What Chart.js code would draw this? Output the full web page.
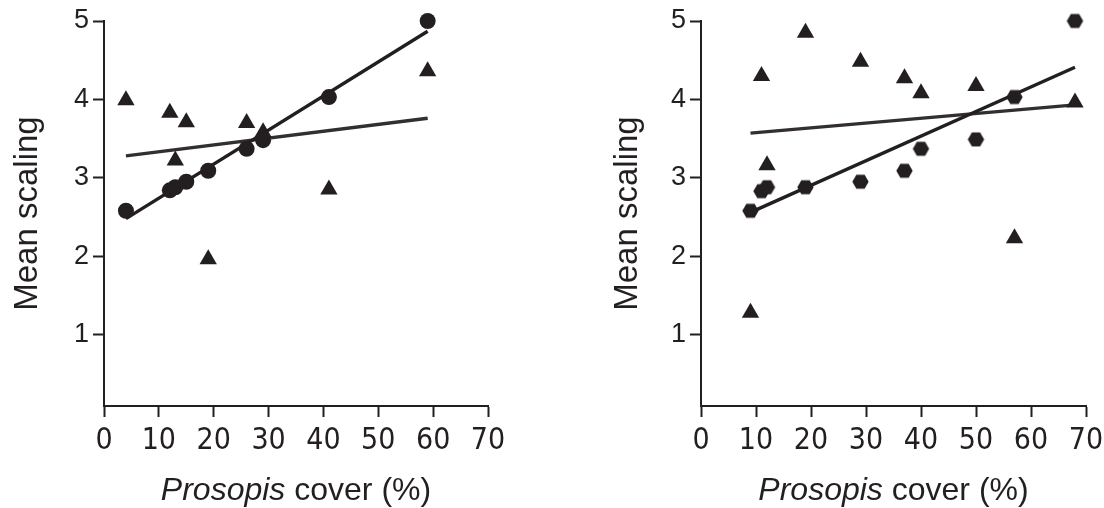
<!DOCTYPE html>
<html>
<head>
<meta charset="utf-8">
<script src="https://cdn.jsdelivr.net/npm/chart.js@4.4.1/dist/chart.umd.min.js"></script>
<style>
  html, body { margin: 0; padding: 0; background: #ffffff; }
  #wrap { position: relative; width: 1104px; height: 508px; overflow: hidden; }
  canvas { position: absolute; top: 0; }
  #cLeft { left: 0; }
  #cRight { left: 552px; }
</style>
</head>
<body>
<div id="wrap">
  <canvas id="cLeft" width="552" height="508"></canvas>
  <canvas id="cRight" width="552" height="508"></canvas>
</div>
<script>
// ---------- data ----------
const xTicks = [0, 10, 20, 30, 40, 50, 60, 70];
const yTicks = [1, 2, 3, 4, 5];
const yAxisTitle = 'Mean scaling';
const xTitleItalic = 'Prosopis';
const xTitleRest = ' cover (%)';

// left panel
const leftCircleX = [4, 12, 13, 15, 19, 26, 29, 41, 59];
const leftCircleY = [2.58, 2.84, 2.88, 2.95, 3.09, 3.37, 3.48, 4.03, 5.00];
const leftTriX = [4, 12, 13, 15, 19, 26, 29, 41, 59];
const leftTriY = [3.99, 3.83, 3.22, 3.71, 1.96, 3.70, 3.58, 2.85, 4.36];
const leftCircleFitX = [4, 59];
const leftCircleFitY = [2.48, 4.87];
const leftTriFitX = [4, 59];
const leftTriFitY = [3.28, 3.76];

// right panel
const rightHexX = [9, 11, 12, 19, 29, 37, 40, 50, 57, 68];
const rightHexY = [2.58, 2.83, 2.88, 2.88, 2.95, 3.09, 3.37, 3.49, 4.03, 5.00];
const rightTriX = [9, 11, 12, 19, 29, 37, 40, 50, 57, 68];
const rightTriY = [1.28, 4.30, 3.16, 4.85, 4.48, 4.27, 4.08, 4.17, 2.23, 3.96];
const rightHexFitX = [9, 68];
const rightHexFitY = [2.56, 4.41];
const rightTriFitX = [9, 68];
const rightTriFitY = [3.57, 3.93];

// ---------- styling ----------
const INK = '#231f20';
const FONT = "'Liberation Sans', Arial, Helvetica, sans-serif";
const NARROW = "'Liberation Sans Narrow', 'Arial Narrow', 'DejaVu Sans Condensed', sans-serif";

function pts(xs, ys) { return xs.map((x, i) => ({ x: x, y: ys[i] })); }

function hexagonImage(R) {
  const h = Math.sqrt(3) * R;
  const c = document.createElement('canvas');
  c.width = Math.ceil(2 * R) + 2;
  c.height = Math.ceil(h) + 2;
  const g = c.getContext('2d');
  const cx = c.width / 2, cy = c.height / 2;
  g.beginPath();
  for (let k = 0; k < 6; k++) {
    const a = k * Math.PI / 3;
    const px = cx + R * Math.cos(a), py = cy + R * Math.sin(a);
    if (k === 0) g.moveTo(px, py); else g.lineTo(px, py);
  }
  g.closePath();
  g.fillStyle = INK;
  g.fill();
  return c;
}
const HEX = hexagonImage(8.2);

const xTitlePlugin = {
  id: 'xTitle',
  afterDraw(chart) {
    const ctx = chart.ctx;
    const a = chart.chartArea;
    const cx = (a.left + a.right) / 2;
    const y = 500;
    ctx.save();
    ctx.fillStyle = INK;
    ctx.textBaseline = 'alphabetic';
    const fi = 'italic 32px ' + FONT;
    const fn = '32px ' + FONT;
    ctx.font = fi; const w1 = ctx.measureText(xTitleItalic).width;
    ctx.font = fn; const w2 = ctx.measureText(xTitleRest).width;
    let x0 = cx - (w1 + w2) / 2;
    ctx.textAlign = 'left';
    ctx.font = fi; ctx.fillText(xTitleItalic, x0, y);
    ctx.font = fn; ctx.fillText(xTitleRest, x0 + w1, y);
    ctx.restore();
  }
};

function makeChart(id, cfg) {
  const datasets = [
    { data: pts(cfg.fitAX, cfg.fitAY), showLine: true, borderColor: INK, borderWidth: 3.4, pointRadius: 0, clip: false, order: 3 },
    { data: pts(cfg.fitBX, cfg.fitBY), showLine: true, borderColor: '#332f30', borderWidth: 3.4, pointRadius: 0, clip: false, order: 3 },
    { data: pts(cfg.triX, cfg.triY), pointStyle: 'triangle', pointRadius: 10, backgroundColor: INK, borderColor: INK, borderWidth: 0, showLine: false, clip: false, order: 1 },
    { data: pts(cfg.dotX, cfg.dotY), pointStyle: cfg.dotStyle, pointRadius: 8, backgroundColor: INK, borderColor: INK, borderWidth: 0, showLine: false, clip: false, order: 2 }
  ];
  return new Chart(document.getElementById(id), {
    type: 'scatter',
    data: { datasets: datasets },
    plugins: [xTitlePlugin],
    options: {
      responsive: false,
      animation: false,
      devicePixelRatio: 1,
      layout: { padding: { left: 0, right: cfg.padRight, top: 21, bottom: 0 } },
      plugins: { legend: { display: false }, tooltip: { enabled: false } },
      scales: {
        x: {
          type: 'linear', min: 0, max: 70,
          afterBuildTicks: s => { s.ticks = xTicks.map(v => ({ value: v })); },
          afterFit: s => { s.height = 102; s.paddingLeft = 0; s.paddingRight = 0; },
          border: { display: true, color: INK, width: 2 },
          grid: { display: true, drawOnChartArea: false, drawTicks: true, tickLength: 11, tickWidth: 2, tickColor: INK, color: INK },
          ticks: { color: INK, font: { family: NARROW, size: 30 }, padding: 6, maxRotation: 0, autoSkip: false }
        },
        y: {
          type: 'linear', min: 0.09, max: 5,
          afterBuildTicks: s => { s.ticks = yTicks.map(v => ({ value: v })); },
          afterFit: s => { s.width = cfg.yWidth; s.paddingTop = 0; s.paddingBottom = 0; },
          border: { display: true, color: INK, width: 2 },
          grid: { display: true, drawOnChartArea: false, drawTicks: true, tickLength: 11, tickWidth: 2, tickColor: INK, color: INK },
          ticks: { color: INK, font: { family: FONT, size: 27 }, padding: 4, autoSkip: false },
          title: { display: true, text: yAxisTitle, color: INK, font: { family: FONT, size: 33 }, padding: { top: cfg.titlePad, bottom: 0 } }
        }
      }
    }
  });
}

makeChart('cLeft', {
  dotX: leftCircleX, dotY: leftCircleY, dotStyle: 'circle',
  triX: leftTriX, triY: leftTriY,
  fitAX: leftCircleFitX, fitAY: leftCircleFitY,
  fitBX: leftTriFitX, fitBY: leftTriFitY,
  yWidth: 104, padRight: 64, titlePad: 8
});
makeChart('cRight', {
  dotX: rightHexX, dotY: rightHexY, dotStyle: HEX,
  triX: rightTriX, triY: rightTriY,
  fitAX: rightHexFitX, fitAY: rightHexFitY,
  fitBX: rightTriFitX, fitBY: rightTriFitY,
  yWidth: 149, padRight: 18, titlePad: 56
});
</script>
</body>
</html>
